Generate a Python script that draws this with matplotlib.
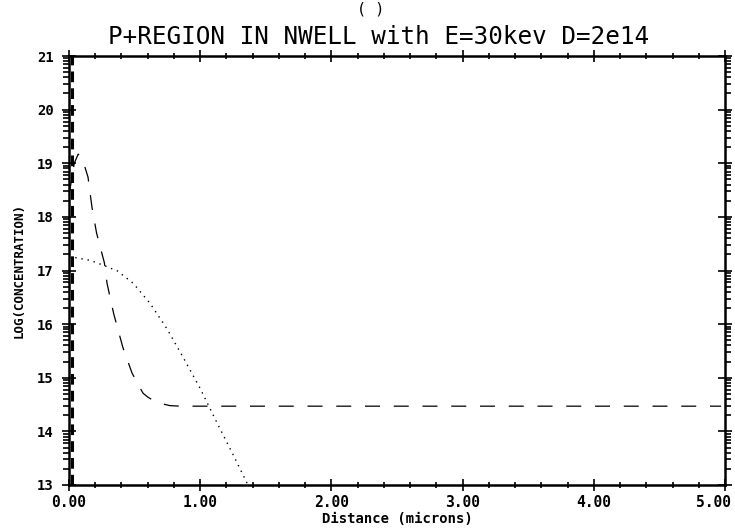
import numpy as np
import matplotlib
matplotlib.use("Agg")
import matplotlib.pyplot as plt
import matplotlib.transforms as mtransforms
from matplotlib.ticker import FixedLocator, FormatStrFormatter

# Boron implant profile (dashed)
boron_x = [0.0, 0.02, 0.04, 0.07, 0.10, 0.145, 0.175, 0.21, 0.27, 0.29, 0.34, 0.41,
           0.48, 0.53, 0.565, 0.60, 0.64, 0.70, 0.77, 0.85, 1.0, 2.0, 3.0, 4.0, 4.97]
boron_y = [18.40, 18.70, 19.00, 19.17, 19.10, 18.74, 18.18, 17.70, 17.14, 16.76, 16.20, 15.57,
           15.09, 14.86, 14.71, 14.64, 14.58, 14.52, 14.48, 14.47, 14.47, 14.47, 14.47, 14.47, 14.47]

# N-well profile (dotted)
nwell_x = [0.0, 0.05, 0.16, 0.26, 0.37, 0.49, 0.62, 0.75, 0.87, 1.0, 1.13, 1.25, 1.36]
nwell_y = [17.25, 17.24, 17.19, 17.10, 16.99, 16.76, 16.38, 15.90, 15.38, 14.80, 14.15, 13.57, 13.02]

# Surface boundary (thick dashed)
surf_x = [0.02, 0.02]
surf_y = [13.0, 21.0]

xticks = [0, 1, 2, 3, 4, 5]
yticks = [13, 14, 15, 16, 17, 18, 19, 20, 21]
title = "P+REGION IN NWELL with E=30kev D=2e14"

mono = "DejaVu Sans Mono"

fig = plt.figure(figsize=(7.35, 5.29), dpi=100)
ax = fig.add_axes([69/735, 1-485/529, (725-69)/735, (485-56)/529])

ax.plot(nwell_x, nwell_y, color="black", lw=1.0, linestyle=(0, (1, 3.5)))
ax.plot(boron_x, boron_y, color="black", lw=0.9, linestyle=(0, (12, 11)))
ax.plot(surf_x, surf_y, color="black", lw=2.2, linestyle=(0, (3.5, 2)))

ax.set_xlim(0, 5)
ax.set_ylim(13, 21)
ax.set_xticks(xticks)
ax.xaxis.set_major_formatter(FormatStrFormatter("%.2f"))
ax.xaxis.set_minor_locator(FixedLocator(np.arange(0, 5.01, 0.2)))
ax.set_yticks(yticks)
ax.yaxis.set_major_formatter(FormatStrFormatter("%d"))
minor_y = [d + np.log10(k) for d in range(13, 21) for k in range(2, 10)]
ax.yaxis.set_minor_locator(FixedLocator(minor_y))

for s in ax.spines.values():
    s.set_linewidth(1.8)

ax.tick_params(axis="both", which="both", top=True, right=True, width=1.2)
ax.tick_params(axis="x", which="major", direction="inout", length=9)
ax.tick_params(axis="x", which="minor", direction="inout", length=5)
ax.tick_params(axis="y", which="major", direction="inout", length=10)
ax.tick_params(axis="y", which="minor", direction="out", length=4)
ax.tick_params(axis="x", labelsize=10.5, pad=3)
ax.tick_params(axis="y", labelsize=10, pad=6)
for lbl in ax.get_xticklabels() + ax.get_yticklabels():
    lbl.set_family(mono)
    lbl.set_fontweight("bold")

fig.canvas.draw()
last = ax.get_xticklabels()[-1]
last.set_horizontalalignment("right")
last.set_transform(last.get_transform() + mtransforms.ScaledTranslation(6/100, 0, fig.dpi_scale_trans))

ax.set_xlabel("Distance (microns)", family=mono, fontsize=10, fontweight="bold", labelpad=1)
ax.set_ylabel("LOG(CONCENTRATION)", family=mono, fontsize=9, fontweight="bold", labelpad=8)

fig.text(0.515, 1-37/529, title, ha="center", va="center", family=mono, fontsize=17.5)
fig.text(0.505, 1-1/529, "( )", ha="center", va="top", family=mono, fontsize=11)

fig.savefig("out.png", dpi=100)
